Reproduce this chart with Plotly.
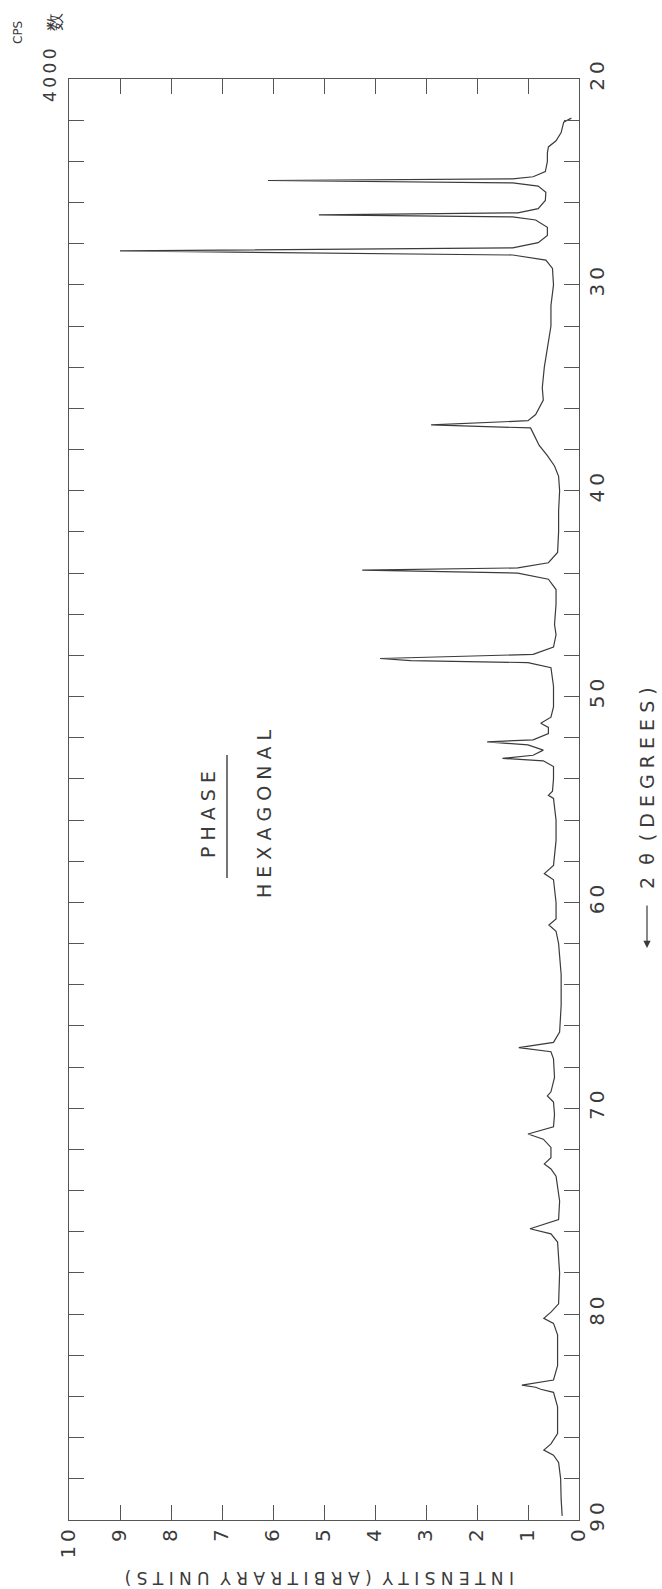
import plotly.graph_objects as go

# X-ray diffraction trace: diffraction angle 2θ (degrees) and intensity (arbitrary units)
two_theta = [
    21.9, 22.1, 22.6, 23.0, 23.3, 23.6, 24.0, 24.5, 24.75, 24.85, 24.93, 25.05, 25.2, 25.5,
    25.9, 26.3, 26.5, 26.6, 26.7, 26.85, 27.2, 27.6, 27.95, 28.2, 28.35, 28.55, 28.8, 29.2,
    30.0, 31.0, 32.0, 33.0, 34.0, 35.0, 35.6, 36.3, 36.6, 36.8, 36.95, 37.3, 37.8, 38.3,
    38.8, 39.3, 40.0, 41.0, 42.0, 43.0, 43.5, 43.75, 43.86, 44.0, 44.3, 44.8, 45.5, 46.5,
    47.0, 47.6, 47.95, 48.15, 48.25, 48.35, 48.6, 49.5, 50.5, 51.0, 51.3, 51.5, 51.8, 52.1,
    52.2, 52.35, 52.6, 52.85, 53.0, 53.12, 53.4, 54.0, 54.6, 54.8, 54.95, 56.0, 57.0, 58.2,
    58.6, 58.9, 60.0, 60.8, 61.1, 61.4, 62.0, 63.5, 65.0, 66.3, 66.8, 67.05, 67.25, 67.6,
    68.5, 69.2, 69.4, 69.7, 70.3, 70.9, 71.25, 71.5, 71.9, 72.4, 72.7, 72.95, 73.3, 74.5,
    75.4, 75.85, 76.1, 76.5, 78.0, 79.5, 79.9, 80.2, 80.45, 81.0, 82.5, 83.2, 83.45, 83.55,
    83.65, 83.8, 84.5, 85.8, 86.3, 86.6, 86.85, 87.2, 88.0, 89.0, 89.8,
]
intensity = [
    0.15, 0.30, 0.35, 0.45, 0.60, 0.62, 0.62, 0.66, 0.90, 1.30, 6.10, 1.30, 0.80, 0.65,
    0.66, 0.80, 1.20, 5.10, 1.30, 0.85, 0.62, 0.62, 0.80, 1.30, 9.00, 1.30, 0.65, 0.52,
    0.50, 0.55, 0.55, 0.62, 0.68, 0.72, 0.70, 0.85, 1.00, 2.90, 0.95, 0.88, 0.78, 0.62,
    0.48, 0.40, 0.38, 0.40, 0.40, 0.42, 0.60, 1.20, 4.25, 1.20, 0.60, 0.45, 0.45, 0.48,
    0.45, 0.50, 0.90, 3.90, 3.30, 1.00, 0.55, 0.50, 0.50, 0.55, 0.75, 0.60, 0.60, 0.90,
    1.80, 1.00, 0.70, 0.90, 1.50, 0.70, 0.50, 0.50, 0.52, 0.60, 0.50, 0.45, 0.45, 0.50,
    0.68, 0.50, 0.45, 0.45, 0.59, 0.45, 0.40, 0.35, 0.35, 0.38, 0.50, 1.18, 0.55, 0.50,
    0.48, 0.55, 0.62, 0.50, 0.48, 0.50, 1.00, 0.70, 0.55, 0.55, 0.68, 0.55, 0.45, 0.38,
    0.40, 0.96, 0.55, 0.42, 0.38, 0.40, 0.55, 0.69, 0.50, 0.42, 0.42, 0.50, 1.12, 0.85,
    0.75, 0.50, 0.42, 0.42, 0.55, 0.69, 0.50, 0.40, 0.36, 0.35, 0.33,
]

# axis ticks
intensity_ticks = list(range(0, 11))
intensity_labels = ["0", "1", "2", "3", "4", "5", "6", "7", "8", "9", "1\u20090"]
angle_ticks = list(range(20, 91, 2))
angle_labels = {20: "2\u20090", 30: "3\u20090", 40: "4\u20090", 50: "5\u20090",
                60: "6\u20090", 70: "7\u20090", 80: "8\u20090", 90: "9\u20090"}

INK = "#3b3b3b"
FONT = "DejaVu Sans"

# plot frame in pixels
W, H = 662, 1589
L, R, T, B = 69, 579, 79, 1520


def px(x):
    return (x - L) / (R - L)


def py(y):
    return (B - y) / (B - T)


fig = go.Figure()
fig.add_trace(go.Scatter(
    x=intensity, y=two_theta, mode="lines",
    line=dict(color=INK, width=1.2), hoverinfo="skip", showlegend=False,
))

axis_common = dict(
    showgrid=False, zeroline=False, showline=True, linecolor="#555555", linewidth=1.3,
    mirror="ticks", ticks="inside", ticklen=15, tickwidth=1.2, tickcolor="#555555",
    tickangle=-90, tickfont=dict(family=FONT, size=20, color=INK),
)

fig.update_layout(
    width=W, height=H,
    margin=dict(l=L, r=W - R, t=T, b=H - B),
    paper_bgcolor="white", plot_bgcolor="white",
    xaxis=dict(range=[10, 0], tickmode="array", tickvals=intensity_ticks,
               ticktext=intensity_labels, **axis_common),
    yaxis=dict(range=[90, 20], side="right", tickmode="array", tickvals=angle_ticks,
               ticktext=[angle_labels.get(v, "") for v in angle_ticks], **axis_common),
)

ann = []


def text(x, y, s, size, angle=-90):
    ann.append(dict(x=px(x), y=py(y), xref="paper", yref="paper", text=s,
                    showarrow=False, textangle=angle,
                    font=dict(family=FONT, size=size, color=INK),
                    xanchor="center", yanchor="middle"))


text(208, 815, "P H A S E", 19)
text(264, 814, "H E X A G O N A L", 19)
text(320, 1578, "I N T E N S I T Y  ( A R B I T R A R Y  U N I T S )", 17, angle=180)
text(647, 788, "2  θ  ( D E G R E E S )", 19)
text(50, 76, "4\u20090\u20090\u20090", 17)
text(18, 33, "CPS", 12)
text(54, 22, "数", 18)

# direction arrow below the 2θ title
ann.append(dict(x=px(647), y=py(948), xref="paper", yref="paper", ax=0, ay=-44,
                text="", showarrow=True,
                arrowhead=2, arrowsize=1.2, arrowwidth=1.2, arrowcolor=INK))

fig.update_layout(annotations=ann)

# underline below the phase heading
fig.add_shape(type="line", xref="paper", yref="paper",
              x0=px(227), x1=px(227), y0=py(755), y1=py(878),
              line=dict(color=INK, width=1.4))

fig.write_html("out.html")
